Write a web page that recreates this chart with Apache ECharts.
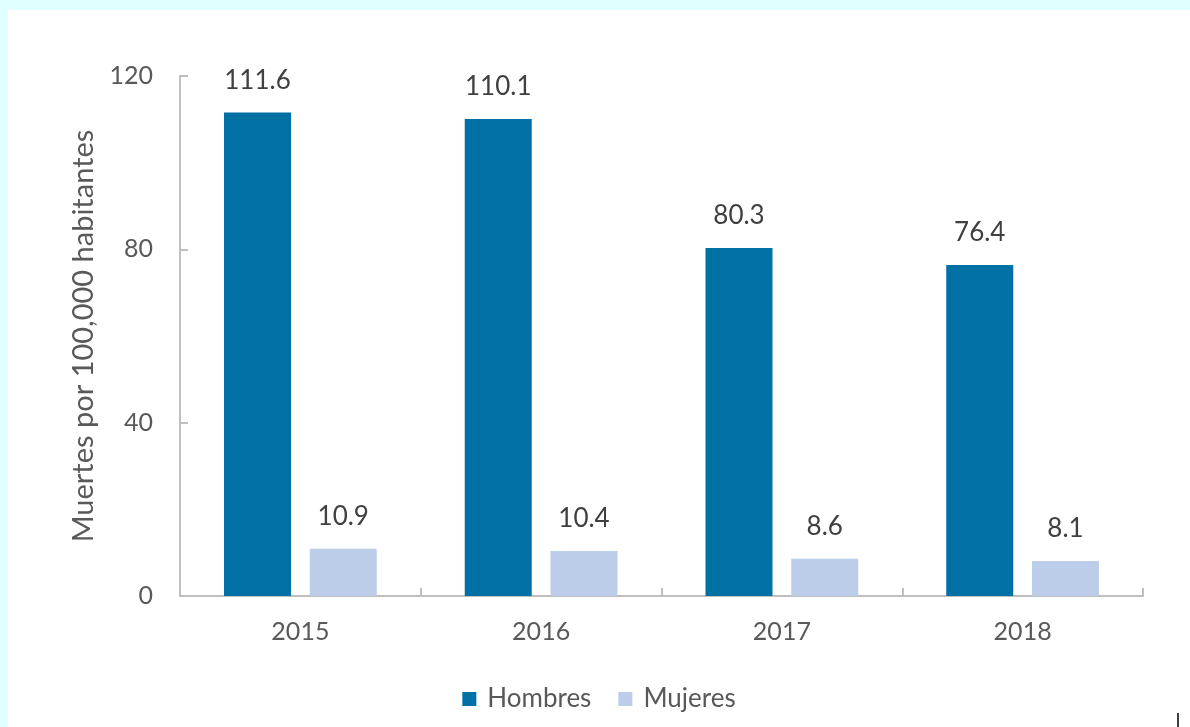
<!DOCTYPE html>
<html>
<head>
<meta charset="utf-8">
<script src="https://cdn.jsdelivr.net/npm/echarts@6/dist/echarts.min.js"></script>
<style>
  html, body { margin: 0; padding: 0; background: #e0ffff; }
  #chart { position: absolute; left: 8px; top: 10px; width: 1182px; height: 717px; background: #fff; }
</style>
</head>
<body>
<div id="chart"></div>
<script>
let years = ['2015', '2016', '2017', '2018']
let hombres = [111.6, 110.1, 80.3, 76.4]
let mujeres = [10.9, 10.4, 8.6, 8.1]
let yTicks = [0, 40, 80, 120]

let myChart = echarts.init(document.getElementById('chart'))

let labelStyle = {
  show: true,
  position: 'top',
  distance: 19,
  color: '#404040',
  fontSize: 26,
  fontFamily: 'Lato'
}

let opt = {
  textStyle: { fontFamily: 'Lato' },
  grid: { left: 172, right: 47, top: 66, bottom: 131 },
  legend: {
    data: ['Hombres', 'Mujeres'],
    left: 'center',
    bottom: 10,
    icon: 'rect',
    itemWidth: 14,
    itemHeight: 14,
    itemGap: 27,
    textStyle: { color: '#595959', fontSize: 26, fontFamily: 'Lato', padding: [0, 0, 0, 6] }
  },
  xAxis: {
    type: 'category',
    data: years,
    axisLine: { lineStyle: { color: '#bfbfbf', width: 2 } },
    axisTick: { show: true, inside: true, length: 8, lineStyle: { color: '#bfbfbf', width: 2 } },
    axisLabel: { color: '#595959', fontSize: 25, margin: 23 }
  },
  yAxis: {
    type: 'value',
    min: yTicks[0],
    max: yTicks[yTicks.length - 1],
    interval: 40,
    name: 'Muertes por 100,000 habitantes',
    nameLocation: 'middle',
    nameGap: 82,
    nameTextStyle: { color: '#595959', fontSize: 29, fontFamily: 'Lato' },
    axisLine: { show: true, lineStyle: { color: '#bfbfbf', width: 2 } },
    axisTick: { show: true, inside: true, length: 8, lineStyle: { color: '#bfbfbf', width: 2 } },
    axisLabel: { color: '#595959', fontSize: 25, margin: 27 },
    splitLine: { show: false }
  },
  series: [
    {
      name: 'Hombres',
      type: 'bar',
      data: hombres,
      barWidth: 67,
      barGap: '28%',
      itemStyle: { color: '#0070a5' },
      label: labelStyle
    },
    {
      name: 'Mujeres',
      type: 'bar',
      data: mujeres,
      barWidth: 67,
      itemStyle: { color: '#bccde9' },
      label: labelStyle
    }
  ],
  graphic: [{
    type: 'line',
    shape: { x1: 1170, y1: 703, x2: 1170, y2: 717 },
    style: { stroke: '#000', lineWidth: 1.5 }
  }]
}

myChart.setOption(opt)
</script>
</body>
</html>
